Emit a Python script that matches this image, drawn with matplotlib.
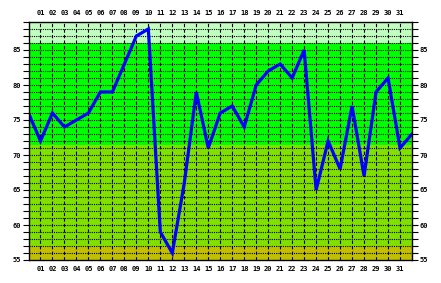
import matplotlib
matplotlib.use('Agg')
import matplotlib.pyplot as plt
from matplotlib.ticker import MultipleLocator
import numpy as np

# values, one per day slot (0..32)
days = list(range(0, 33))
values = [76, 72, 76, 74, 75, 76, 79, 79, 83, 87, 88, 59, 56, 66, 79, 71,
          76, 77, 74, 80, 82, 83, 81, 85, 65, 72, 68, 77, 67, 79, 81, 71, 73]
day_labels = ['%02d' % d for d in range(1, 32)]

# background bands (lower, upper, colour)
band_edges = [55, 57, 71.5, 86, 89]
band_colors = ['#c0c000', '#80e000', '#00ff00', '#c0ffc0']

fig = plt.figure(figsize=(4.41, 2.83), dpi=100)
ax = fig.add_axes([28.5 / 441, 23 / 283, 383.5 / 441, 238 / 283])

for lo, hi, c in zip(band_edges[:-1], band_edges[1:], band_colors):
    ax.axhspan(lo, hi, color=c, lw=0, zorder=0)

# grid
for d in range(1, 32):
    ax.axvline(d, color='black', lw=0.8, ls=(0, (3, 2)), zorder=1)
for v in range(56, 89):
    ax.axhline(v, color='black', lw=0.8, ls=(0, (1, 1)), zorder=1)

ax.plot(days, values, color='#0000ff', lw=2.3, zorder=3, solid_joinstyle='miter')

ax.set_xlim(0, 32)
ax.set_ylim(55, 89)

ax.set_xticks(range(1, 32))
ax.set_xticklabels(day_labels)
ax.tick_params(axis='x', length=0, pad=4.5, top=True, labeltop=True,
               bottom=True, labelbottom=True)
ax.yaxis.set_major_locator(MultipleLocator(5))
ax.yaxis.set_minor_locator(MultipleLocator(1))
ax.tick_params(axis='y', which='both', length=4, width=0.8, direction='out',
               left=True, right=True, labelleft=True, labelright=True, pad=1.5)

for lab in ax.get_xticklabels() + ax.get_yticklabels():
    lab.set_fontfamily('DejaVu Sans Mono')
    lab.set_fontweight('bold')
    lab.set_fontsize(5)

for sp in ax.spines.values():
    sp.set_linewidth(1.0)
    sp.set_zorder(4)

plt.savefig('out.png', dpi=100)
